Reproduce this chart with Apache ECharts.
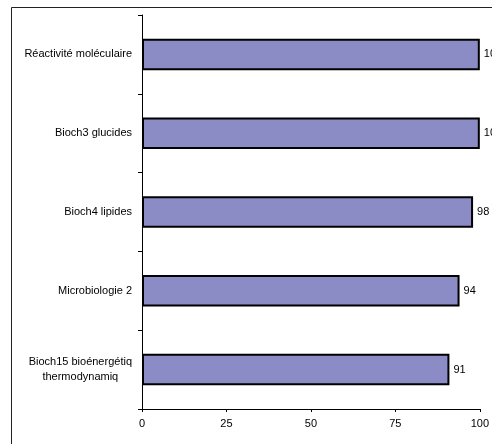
<!DOCTYPE html>
<html>
<head>
<meta charset="utf-8">
<script src="https://cdn.jsdelivr.net/npm/echarts@6/dist/echarts.min.js"></script>
<style>html,body{margin:0;padding:0;background:#fff;}#c{width:492px;height:444px;}</style>
</head>
<body>
<div id="c"></div>
<script>
var categories = ["Réactivité moléculaire", "Bioch3 glucides", "Bioch4 lipides", "Microbiologie 2", "Bioch15 bioénergétiq\nthermodynamiq"];
var values = [100, 100, 98, 94, 91];
var xTicks = [0, 25, 50, 75, 100];

var chart = echarts.init(document.getElementById('c'));
var font = 'Liberation Sans, Arial, sans-serif';
chart.setOption({
  animation: false,
  backgroundColor: '#fff',
  graphic: [{
    type: 'rect', left: 9, top: 5, silent: true,
    shape: { width: 700, height: 700 },
    style: { fill: 'none', stroke: '#222', lineWidth: 1 }
  }],
  grid: { left: 142, top: 15, right: 10, bottom: 35 },
  xAxis: {
    type: 'value', min: xTicks[0], max: xTicks[xTicks.length - 1], interval: 25,
    axisLine: { show: true, lineStyle: { color: '#000', width: 1 } },
    axisTick: { show: true, length: 3, lineStyle: { color: '#000' } },
    splitLine: { show: false },
    axisLabel: { color: '#000', fontSize: 11, fontFamily: font, margin: 9 }
  },
  yAxis: {
    type: 'category', data: categories, inverse: true,
    axisLine: { show: true, lineStyle: { color: '#000', width: 1 } },
    axisTick: { show: true, length: 4, lineStyle: { color: '#000' } },
    axisLabel: {
      color: '#000', fontSize: 11, fontFamily: font, margin: 10,
      formatter: function (v) {
        return v.split('\n').map(function (s) { return '{c|' + s + '}'; }).join('\n');
      },
      rich: { c: { align: 'center', fontSize: 11, fontFamily: font, color: '#000', lineHeight: 15 } }
    }
  },
  series: [{
    type: 'bar', data: values, barCategoryGap: '60%',
    itemStyle: { color: '#8b8bc6', borderColor: '#000', borderWidth: 2 },
    label: { show: true, position: 'right', distance: 4, color: '#000', fontSize: 11, fontFamily: font }
  }]
});
</script>
</body>
</html>
